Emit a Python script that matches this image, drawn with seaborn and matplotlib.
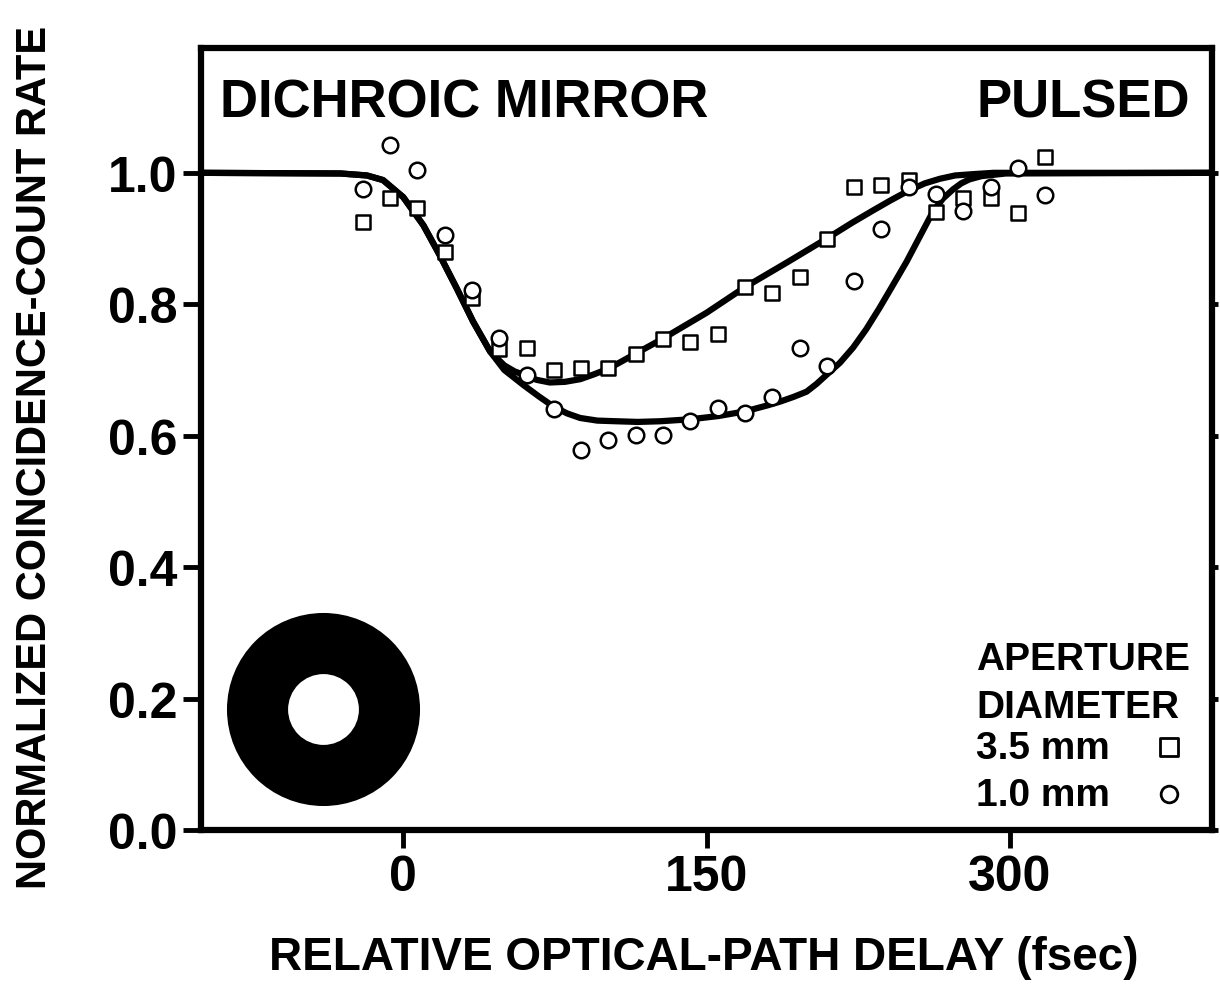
import numpy as np
import pandas as pd
import seaborn as sns
import matplotlib.pyplot as plt

# measured points (relative delay in fsec, normalized rate)
delay = [-20, -6.5, 7, 20.5, 34, 47.5, 61, 74.5, 88, 101.5, 115, 128.5, 142,
         155.5, 169, 182.5, 196, 209.5, 223, 236.5, 250, 263.5, 277, 290.5, 304, 317.5]
rate_35mm = [0.925, 0.962, 0.946, 0.879, 0.810, 0.732, 0.733, 0.700, 0.703, 0.703,
             0.725, 0.747, 0.743, 0.755, 0.826, 0.817, 0.842, 0.900, 0.979, 0.981,
             0.989, 0.941, 0.961, 0.962, 0.939, 1.024]
rate_10mm = [0.975, 1.043, 1.005, 0.905, 0.821, 0.748, 0.692, 0.641, 0.579, 0.594,
             0.601, 0.601, 0.623, 0.642, 0.635, 0.659, 0.733, 0.706, 0.836, 0.915,
             0.979, 0.968, 0.942, 0.978, 1.008, 0.967]

# theory curves
fit_x_35mm = [-100, -31, -18, -10, 0, 10, 18, 26.5, 34.5, 43, 50, 55, 61, 66, 72.5, 80,
              87.5, 94, 101.5, 108, 115, 128, 150, 169, 190, 209.5, 222, 232.5, 241,
              250, 258, 265.5, 273, 282, 292, 400]
fit_y_35mm = [1.0, 0.999, 0.996, 0.989, 0.963, 0.920, 0.875, 0.824, 0.774, 0.728, 0.707,
              0.698, 0.691, 0.685, 0.681, 0.682, 0.686, 0.693, 0.702, 0.713, 0.725, 0.747,
              0.787, 0.826, 0.864, 0.900, 0.924, 0.943, 0.958, 0.973, 0.984, 0.991, 0.996,
              0.998, 1.0, 1.0]
fit_x_10mm = [-100, -31, -18, -10, 0, 10, 18, 26.5, 34.5, 43, 50, 59.5, 67, 74, 81, 87.5,
              96, 105.5, 116, 127, 142, 156, 169, 180, 186.5, 193, 199.5, 204.5, 209.5,
              216, 222.5, 229, 235.5, 242, 249, 255.5, 262, 267, 272, 276, 280, 286, 298, 400]
fit_y_10mm = [1.0, 0.999, 0.996, 0.989, 0.963, 0.920, 0.875, 0.824, 0.774, 0.728, 0.700,
              0.677, 0.660, 0.645, 0.634, 0.627, 0.623, 0.622, 0.621, 0.622, 0.625, 0.630,
              0.637, 0.646, 0.652, 0.659, 0.667, 0.679, 0.693, 0.711, 0.734, 0.762, 0.794,
              0.828, 0.865, 0.903, 0.941, 0.961, 0.975, 0.984, 0.990, 0.995, 0.999, 1.0]

x_ticks = [0, 150, 300]
y_ticks = [0.0, 0.2, 0.4, 0.6, 0.8, 1.0]

sns.set_style("ticks")
plt.rcParams['font.family'] = ['Liberation Sans', 'DejaVu Sans']
plt.rcParams['font.weight'] = 'bold'
plt.rcParams.update({'text.color': 'black', 'axes.edgecolor': 'black',
                     'xtick.color': 'black', 'ytick.color': 'black',
                     'axes.labelcolor': 'black'})

fig = plt.figure(figsize=(12.2, 9.87), dpi=100)
ax = fig.add_axes([0.1648, 0.158, 0.8286, 0.7924])

df_35 = pd.DataFrame({"delay": delay, "rate": rate_35mm})
df_10 = pd.DataFrame({"delay": delay, "rate": rate_10mm})

sns.lineplot(x=fit_x_35mm, y=fit_y_35mm, ax=ax, color="black", linewidth=4.5, zorder=2)
sns.lineplot(x=fit_x_10mm, y=fit_y_10mm, ax=ax, color="black", linewidth=4.5, zorder=2)

sns.scatterplot(data=df_35, x="delay", y="rate", ax=ax, marker="s", s=100,
                facecolor="white", edgecolor="black", linewidth=1.8, zorder=3)
sns.scatterplot(data=df_10, x="delay", y="rate", ax=ax, marker="o", s=125,
                facecolor="white", edgecolor="black", linewidth=1.8, zorder=3)

ax.set_xlim(-100, 400)
ax.set_ylim(0, 1.19)
ax.set_xticks(x_ticks)
ax.set_yticks(y_ticks)
ax.set_xticklabels([str(t) for t in x_ticks])
ax.set_yticklabels([f"{t:.1f}" for t in y_ticks])
ax.set_xlabel("")
ax.set_ylabel("")

for sp in ax.spines.values():
    sp.set_visible(True)
    sp.set_linewidth(4.5)
ax.tick_params(axis='both', direction='out', length=13, width=3.5, labelsize=36, pad=4)
ax.yaxis.set_tick_params(which='major', right=True)
for t in ax.yaxis.get_major_ticks():
    t.tick2line.set_markersize(4)
for lab in ax.get_xticklabels() + ax.get_yticklabels():
    lab.set_fontweight('bold')

# panel annotations
ax.text(0.019, 0.912, "DICHROIC MIRROR", transform=ax.transAxes, fontsize=38,
        fontweight='bold', ha='left', va='baseline')
ax.text(0.978, 0.912, "PULSED", transform=ax.transAxes, fontsize=38,
        fontweight='bold', ha='right', va='baseline')

# aperture icon
ax.scatter([0.121], [0.1547], s=139 ** 2, marker='o', color='black', lw=0,
           transform=ax.transAxes, zorder=4)
ax.scatter([0.121], [0.1547], s=51 ** 2, marker='o', color='white', lw=0,
           transform=ax.transAxes, zorder=5)

# legend block
ax.text(0.7666, 0.2059, "APERTURE", transform=ax.transAxes, fontsize=28, fontweight='bold')
ax.text(0.7666, 0.1445, "DIAMETER", transform=ax.transAxes, fontsize=28, fontweight='bold')
ax.text(0.7666, 0.0921, "3.5 mm", transform=ax.transAxes, fontsize=28, fontweight='bold')
ax.text(0.7666, 0.032, "1.0 mm", transform=ax.transAxes, fontsize=28, fontweight='bold')
ax.scatter([0.9575], [0.106], s=13 ** 2, marker='s', facecolor='white', edgecolor='black',
           lw=2, transform=ax.transAxes)
ax.scatter([0.9575], [0.046], s=12 ** 2, marker='o', facecolor='white', edgecolor='black',
           lw=2, transform=ax.transAxes)

fig.text(0.577, 0.0294, "RELATIVE OPTICAL-PATH DELAY (fsec)", fontsize=33,
         fontweight='bold', ha='center', va='center')
fig.text(0.0287, 0.537, "NORMALIZED COINCIDENCE-COUNT RATE", fontsize=30,
         fontweight='bold', ha='center', va='center', rotation=90)

fig.savefig("out.png", dpi=100)
